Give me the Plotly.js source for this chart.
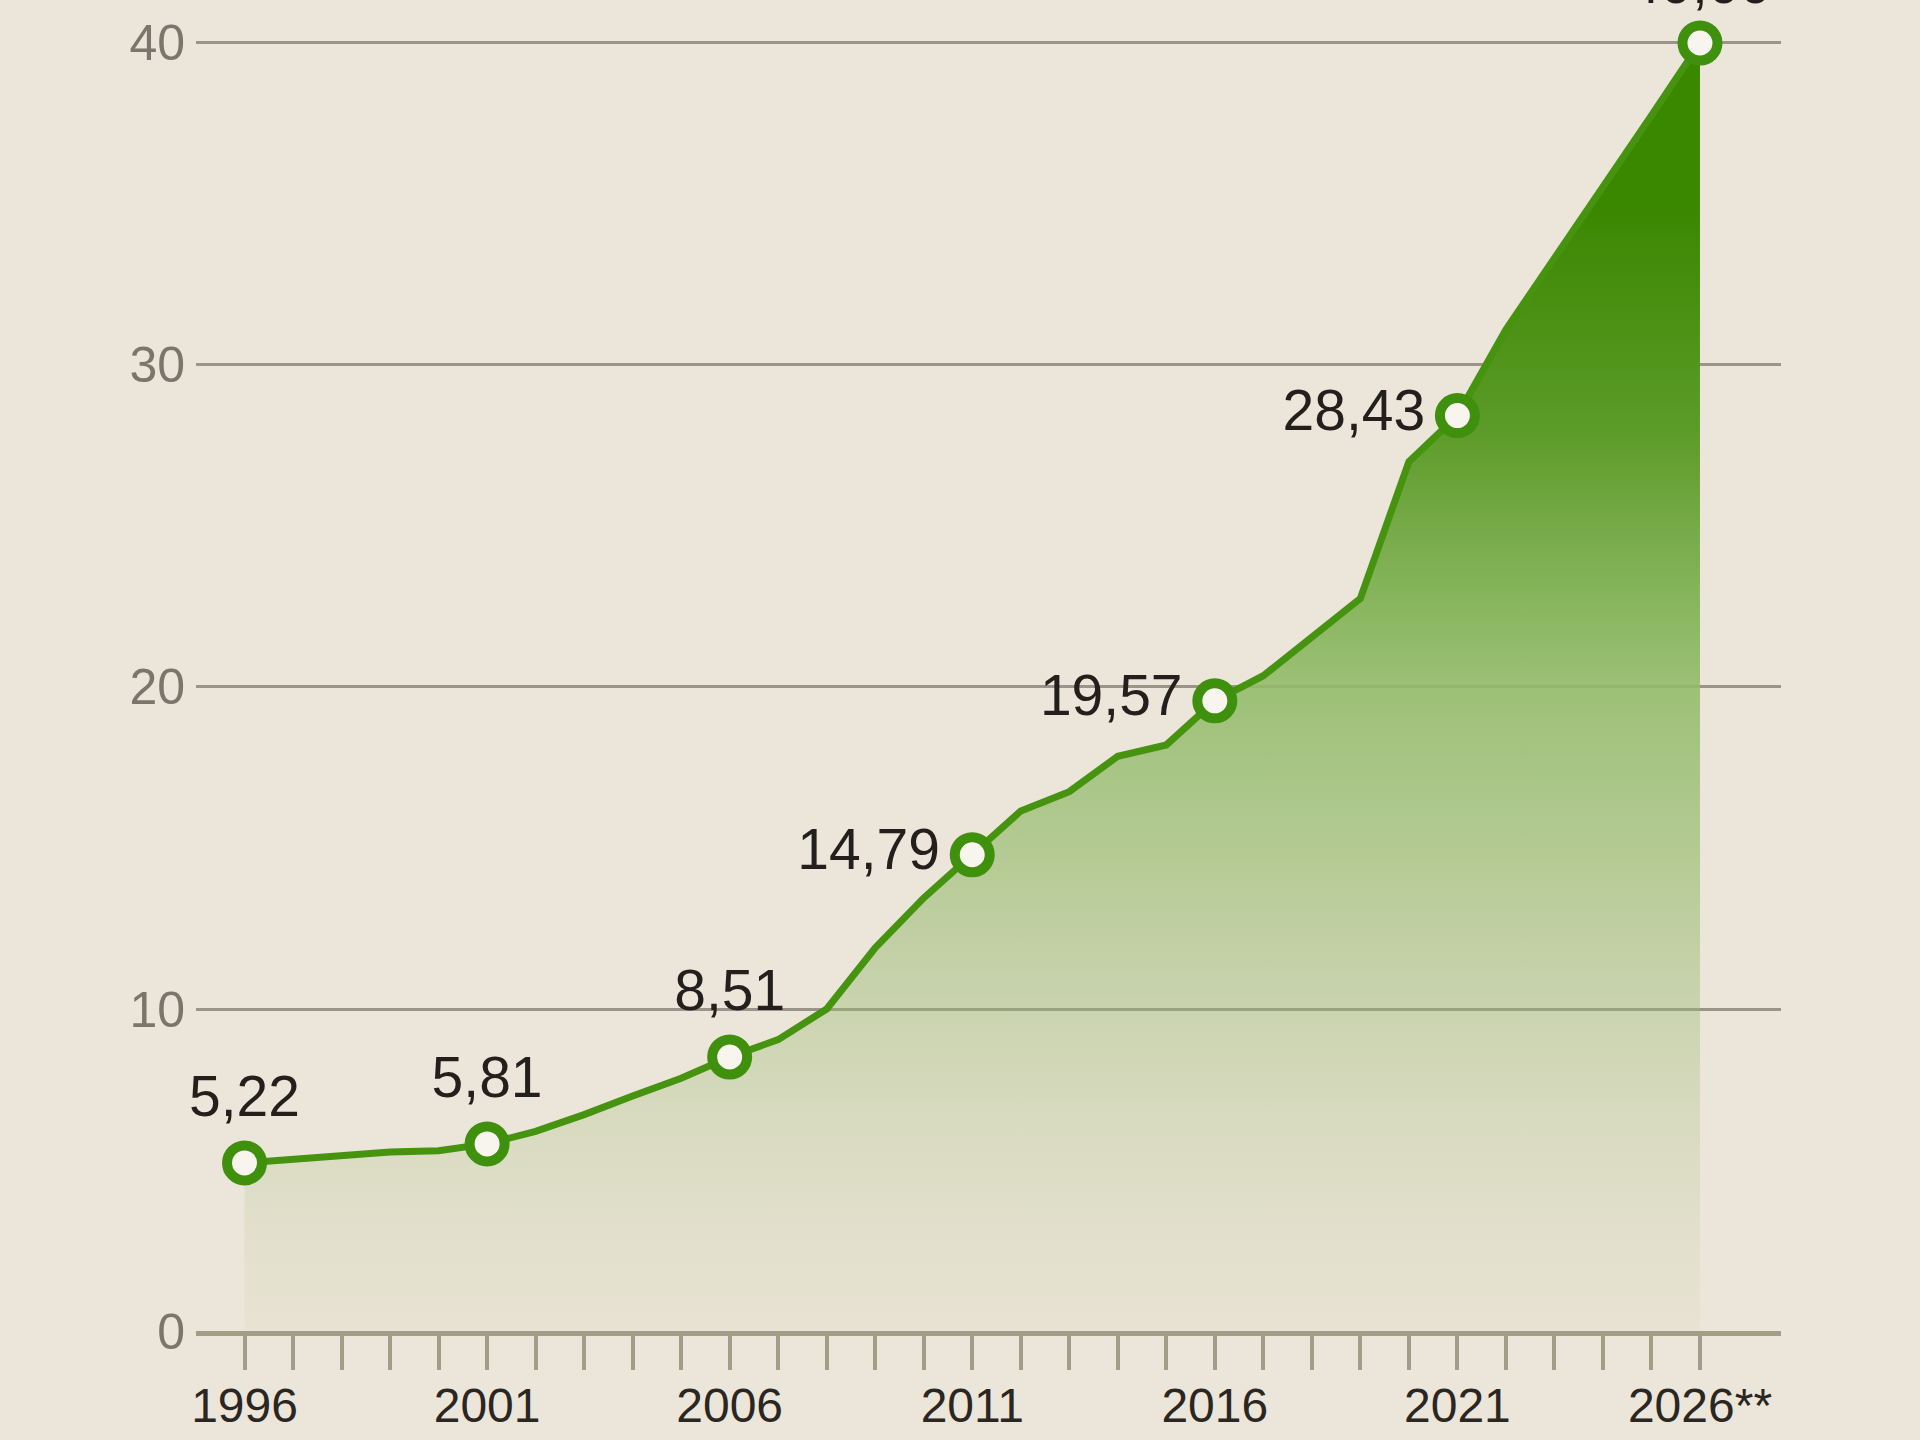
<!doctype html>
<html>
<head>
    <meta charset="utf-8">
    <title>Growth 1996-2026</title>
    <style>
        body {margin: 0; background: #ece5d9;}
        #chart {width: 1920px; height: 1440px;}
    </style>
    <script src="https://cdn.plot.ly/plotly-3.0.1.min.js"></script>
</head>
<body>
    <div id="chart"></div>
    <script>
        // ====== DATA ==================================================
        let years = [1996, 1997, 1998, 1999, 2000, 2001, 2002, 2003, 2004, 2005,
                     2006, 2007, 2008, 2009, 2010, 2011, 2012, 2013, 2014, 2015,
                     2016, 2017, 2018, 2019, 2020, 2021, 2022, 2023, 2024, 2025, 2026];
        let values = [5.22, 5.33, 5.45, 5.56, 5.60, 5.81, 6.20, 6.72, 7.30, 7.85,
                      8.51, 9.05, 10.00, 11.90, 13.45, 14.79, 16.15, 16.75, 17.85, 18.20,
                      19.57, 20.35, 21.55, 22.75, 27.00, 28.43, 31.10, 33.30, 35.50, 37.75, 40.00];

        let labelYears = [1996, 2001, 2006, 2011, 2016, 2021, 2026];
        let labelTexts = ['5,22', '5,81', '8,51', '14,79', '19,57', '28,43', '40,00'];
        let labelPos = ['top center', 'top center', 'top center', 'middle left',
                        'middle left', 'middle left', 'top center'];

        let xTickText = ['1996', '2001', '2006', '2011', '2016', '2021', '2026**'];
        let yTicks = [0, 10, 20, 30, 40];

        // ====== SETTINGS ==============================================
        let fontFamily = '"Liberation Sans", Arial, sans-serif';
        let green = '#45930f';

        let layout = {
            width: 1920,
            height: 1440,
            margin: {l: 196, r: 139, t: 0, b: 109},
            paper_bgcolor: '#ece5d9',
            plot_bgcolor: '#ece5d9',
            showlegend: false,
            font: {family: fontFamily},
            xaxis: {
                range: [1995.0, 2027.67],
                tickmode: 'array',
                tickvals: years,
                ticktext: years.map(function (y) {
                    let k = labelYears.indexOf(y);
                    return k >= 0 ? xTickText[k] : '';
                }),
                ticks: 'outside',
                ticklen: 34,
                tickwidth: 4,
                tickcolor: '#a29d86',
                ticklabelstandoff: -6,
                showline: true,
                linecolor: '#a29d86',
                linewidth: 5,
                showgrid: false,
                zeroline: false,
                tickfont: {size: 48, color: '#2a2622'},
                fixedrange: true,
            },
            yaxis: {
                range: [0, 41.335],
                tickmode: 'array',
                tickvals: yTicks,
                ticks: '',
                ticklabelstandoff: 10,
                showgrid: true,
                gridcolor: '#9a948b',
                gridwidth: 3,
                zeroline: false,
                showline: false,
                tickfont: {size: 50, color: '#7b756c'},
                fixedrange: true,
            },
        };

        let config = {displayModeBar: false, staticPlot: true};

        // ====== PLOT ==================================================
        let labelY = labelYears.map(function (y) { return values[years.indexOf(y)]; });

        let area = {
            x: years,
            y: values,
            type: 'scatter',
            mode: 'lines',
            line: {color: green, width: 7},
            fill: 'tozeroy',
            fillgradient: {
                type: 'vertical',
                start: 0,
                stop: 35,
                colorscale: [
                    [0.0, 'rgba(200,210,170,0.12)'],
                    [0.29, 'rgba(150,185,110,0.40)'],
                    [0.57, 'rgba(145,188,105,0.88)'],
                    [0.80, 'rgb(92,155,40)'],
                    [1.0, 'rgb(58,135,0)'],
                ],
            },
            hoverinfo: 'skip',
        };

        // value labels: invisible wide marker only sets the text offset
        let labels = {
            x: labelYears,
            y: labelY,
            type: 'scatter',
            mode: 'markers+text',
            text: labelTexts,
            textposition: labelPos,
            textfont: {size: 57, color: '#231f1c', family: fontFamily},
            cliponaxis: false,
            marker: {size: [50, 50, 50, 50, 50, 50, 40], color: 'rgba(0,0,0,0)', line: {width: 0}},
            hoverinfo: 'skip',
        };

        let points = {
            x: labelYears,
            y: labelY,
            type: 'scatter',
            mode: 'markers',
            cliponaxis: false,
            marker: {
                size: 35,
                color: '#f7f5ee',
                line: {color: '#3f900c', width: 10},
            },
            hoverinfo: 'skip',
        };

        Plotly.newPlot(document.getElementById('chart'), [area, labels, points], layout, config);
    </script>
</body>
</html>
